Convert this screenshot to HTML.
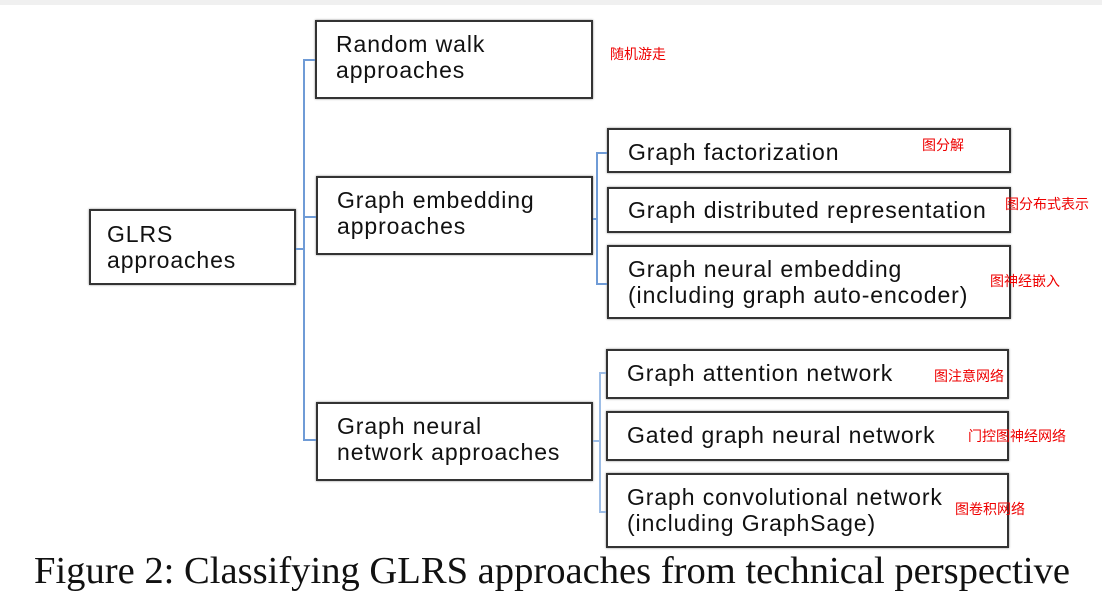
<!DOCTYPE html>
<html><head><meta charset="utf-8"><style>
body{margin:0;width:1102px;height:603px;background:#fff;position:relative;overflow:hidden;font-family:"Liberation Sans","DejaVu Sans",sans-serif}
.b{position:absolute;border:2.5px solid #333;box-shadow:0 0 2px #888;box-sizing:border-box;font-size:23px;letter-spacing:0.9px;line-height:26px;color:#111;padding-left:19px;white-space:nowrap}
.l{position:absolute;background:#6f9bd6}
.c{position:absolute;color:#e00;font-family:"Liberation Sans","Noto Sans CJK SC",sans-serif;font-size:14px}
</style></head><body>
<div style="position:absolute;left:0;top:0;width:1102px;height:5px;background:#f0f0f0"></div>
<div class="b" style="left:89px;top:209px;width:207px;height:76px;padding-top:10px;padding-left:16px">GLRS<br>approaches</div>
<div class="b" style="left:315px;top:20px;width:278px;height:79px;padding-top:9px">Random walk<br>approaches</div>
<div class="b" style="left:316px;top:176px;width:277px;height:79px;padding-top:9px">Graph embedding<br>approaches</div>
<div class="b" style="left:316px;top:402px;width:277px;height:79px;padding-top:9px">Graph neural<br>network approaches</div>
<div class="b" style="left:607px;top:128px;width:404px;height:45px;padding-top:9px">Graph factorization</div>
<div class="b" style="left:607px;top:187px;width:404px;height:46px;padding-top:8px">Graph distributed representation</div>
<div class="b" style="left:607px;top:245px;width:404px;height:74px;padding-top:9px">Graph neural embedding<br>(including graph auto-encoder)</div>
<div class="b" style="left:606px;top:349px;width:403px;height:50px;padding-top:9px">Graph attention network</div>
<div class="b" style="left:606px;top:411px;width:403px;height:50px;padding-top:9px">Gated graph neural network</div>
<div class="b" style="left:606px;top:473px;width:403px;height:75px;padding-top:9px">Graph convolutional network<br>(including GraphSage)</div>
<div class="l" style="left:296px;top:248px;width:9px;height:2px"></div>
<div class="l" style="left:303px;top:59px;width:2px;height:382px"></div>
<div class="l" style="left:303px;top:59px;width:12px;height:2px"></div>
<div class="l" style="left:303px;top:216px;width:13px;height:2px"></div>
<div class="l" style="left:303px;top:439px;width:13px;height:2px"></div>
<div class="l" style="left:593px;top:218px;width:5px;height:2px"></div>
<div class="l" style="left:596px;top:152px;width:2px;height:133px"></div>
<div class="l" style="left:596px;top:152px;width:11px;height:2px"></div>
<div class="l" style="left:596px;top:283px;width:11px;height:2px"></div>
<div class="l" style="left:593px;top:440px;width:8px;height:2px;background:#9dbde6"></div>
<div class="l" style="left:599px;top:372px;width:2px;height:141px;background:#9dbde6"></div>
<div class="l" style="left:599px;top:372px;width:7px;height:2px;background:#9dbde6"></div>
<div class="l" style="left:599px;top:511px;width:7px;height:2px;background:#9dbde6"></div>
<div class="c" style="left:610px;top:44px">随机游走</div>
<div class="c" style="left:922px;top:135px">图分解</div>
<div class="c" style="left:1005px;top:194px">图分布式表示</div>
<div class="c" style="left:990px;top:271px">图神经嵌入</div>
<div class="c" style="left:934px;top:366px">图注意网络</div>
<div class="c" style="left:968px;top:426px">门控图神经网络</div>
<div class="c" style="left:955px;top:499px">图卷积网络</div>
<div style="position:absolute;left:34px;top:549px;font-family:'Liberation Serif',serif;font-size:38.6px;color:#111;white-space:nowrap">Figure 2: Classifying GLRS approaches from technical perspective</div>
</body></html>
